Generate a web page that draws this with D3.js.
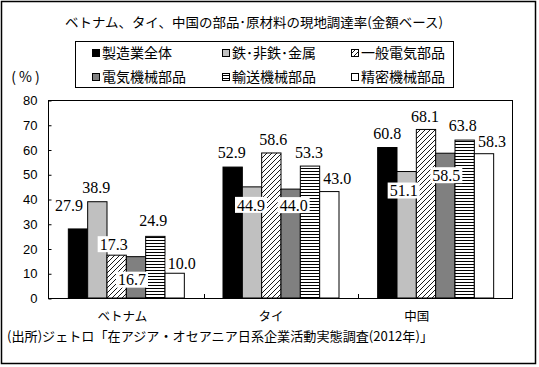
<!DOCTYPE html>
<html><head><meta charset="utf-8">
<script src="https://cdn.jsdelivr.net/npm/d3@7/dist/d3.min.js"></script>
<style>body{margin:0;background:#fff}svg{display:block}</style>
</head><body>
<svg id="c" width="539" height="367"></svg>
<script>
// ---- data ----
const categories = ["ベトナム", "タイ", "中国"];
const seriesNames = ["製造業全体", "鉄･非鉄･金属", "一般電気部品", "電気機械部品", "輸送機械部品", "精密機械部品"];
const manufacturing = [27.9, 52.9, 60.8];
const steel = [38.9, 44.9, 51.1];
const generalElectric = [17.3, 58.6, 68.1];
const electricMachinery = [16.7, 44.0, 58.5];
const transportMachinery = [24.9, 53.3, 63.8];
const precisionMachinery = [10.0, 43.0, 58.3];
const yTicks = [0, 10, 20, 30, 40, 50, 60, 70, 80];
const titleText = "ベトナム、タイ、中国の部品･原材料の現地調達率(金額ベース)";
const unitText = "(%)";
const sourceText = "(出所)ジェトロ「在アジア・オセアニア日系企業活動実態調査(2012年)」";

// ---- layout (not data) ----
const seriesValues = [manufacturing, steel, generalElectric, electricMachinery, transportMachinery, precisionMachinery];
const fills = ["#000", "#c0c0c0", "url(#hatch)", "#808080", "url(#hlines)", "#fff"];
// label offsets [dx, dy] from bar centre/top, per series, per category
const labelOffsets = [
  [[-9, -24], [-1, -15], [0, -14]],
  [[-1, -14], [-1, 18], [-3, 19]],
  [[-3, -11], [2, -14], [-1, -13]],
  [[-4, 23], [3, 16], [1, 22]],
  [[-2, -16], [-1, -14], [-2, -15]],
  [[7, -10], [8, -13], [8, -12]]
];
const catLabelShift = [-4, -10, -19];

const svg = d3.select("#c");
const defs = svg.append("defs");
const hatch = defs.append("pattern").attr("id", "hatch").attr("patternUnits", "userSpaceOnUse")
  .attr("width", 5).attr("height", 5);
hatch.append("rect").attr("width", 5).attr("height", 5).attr("fill", "#fff");
hatch.append("path").attr("d", "M-1,1 L1,-1 M0,5 L5,0 M4,6 L6,4").attr("stroke", "#000").attr("stroke-width", 0.9);
const hl = defs.append("pattern").attr("id", "hlines").attr("patternUnits", "userSpaceOnUse")
  .attr("width", 4).attr("height", 3);
hl.append("rect").attr("width", 4).attr("height", 3).attr("fill", "#fff");
hl.append("rect").attr("y", 0).attr("width", 4).attr("height", 1).attr("fill", "#000");

// outer border
svg.append("rect").attr("x", 1.5).attr("y", 1.5).attr("width", 534).attr("height", 362)
  .attr("fill", "#fff").attr("stroke", "#000").attr("stroke-width", 1.5);

const plotL = 48, plotR = 512, plotT = 100, plotB = 298;
const x = d3.scaleBand().domain(categories).range([plotL + 1, plotR + 1]).paddingInner(0.25).paddingOuter(0.125);
const xs = d3.scaleBand().domain(seriesNames).range([0, x.bandwidth()]);
const y = d3.scaleLinear().domain([0, 80]).range([plotB, plotT]);

// plot frame
svg.append("rect").attr("x", plotL + 0.5).attr("y", plotT + 0.5).attr("width", plotR - plotL).attr("height", plotB - plotT)
  .attr("fill", "none").attr("stroke", "#000").attr("stroke-width", 1);

// y axis
const ya = svg.append("g").attr("transform", `translate(${plotL + 0.5},0.5)`)
  .call(d3.axisLeft(y).tickValues(yTicks).tickSize(-3).tickPadding(11).tickFormat(d3.format("d")));
ya.select(".domain").remove();
ya.selectAll("text").attr("font-family", "Liberation Sans, Arial, sans-serif").attr("font-size", 13).attr("fill", "#000");
ya.selectAll("line").attr("stroke", "#000");

// x category boundary ticks
const gap = (x.step() - x.bandwidth()) / 2;
svg.selectAll(".xt").data(categories.slice(1)).join("line")
  .attr("x1", d => Math.round(x(d) - gap) + 0.5).attr("x2", d => Math.round(x(d) - gap) + 0.5)
  .attr("y1", plotB).attr("y2", plotB - 4).attr("stroke", "#000");

// bars
seriesNames.forEach((s, si) => {
  svg.append("g").selectAll("rect").data(seriesValues[si]).join("rect")
    .attr("x", (d, i) => x(categories[i]) + xs(s))
    .attr("y", d => y(d))
    .attr("width", xs.bandwidth())
    .attr("height", d => plotB - y(d))
    .attr("fill", fills[si]).attr("stroke", "#000").attr("stroke-width", 1);
});

// data labels
const lblG = svg.append("g");
seriesNames.forEach((s, si) => {
  seriesValues[si].forEach((v, ci) => {
    const cx = x(categories[ci]) + xs(s) + xs.bandwidth() / 2 + labelOffsets[si][ci][0];
    const cy = y(v) + labelOffsets[si][ci][1];
    const g = lblG.append("g");
    const t = g.append("text").attr("x", cx).attr("y", cy).attr("dy", "0.36em")
      .attr("text-anchor", "middle").attr("font-family", "Liberation Serif, Times New Roman, serif")
      .attr("font-size", 16).attr("fill", "#000").text(d3.format(".1f")(v));
    const bb = t.node().getBBox();
    g.insert("rect", "text").attr("x", bb.x - 2).attr("y", cy - 8).attr("width", bb.width + 4).attr("height", 16).attr("fill", "#fff");
  });
});

// category labels
svg.selectAll(".cat").data(categories).join("text")
  .attr("x", (d, i) => x(d) + x.bandwidth() / 2 + catLabelShift[i]).attr("y", 316.5).attr("dy", "0.36em")
  .attr("text-anchor", "middle").attr("font-family", "Noto Sans CJK JP").attr("font-size", 12.5).text(d => d);

// title
svg.append("text").attr("x", 254).attr("y", 22).attr("dy", "0.36em").attr("text-anchor", "middle")
  .attr("font-family", "Noto Sans CJK JP").attr("font-size", 13).attr("textLength", 378).attr("lengthAdjust", "spacingAndGlyphs").text(titleText);

// unit
svg.append("text").attr("x", 27).attr("y", 77).attr("dy", "0.36em").attr("text-anchor", "middle")
  .attr("font-family", "Noto Sans CJK JP").attr("font-size", 14).attr("letter-spacing", 3).text(unitText);

// legend
svg.append("rect").attr("x", 75.5).attr("y", 41.5).attr("width", 378).attr("height", 46)
  .attr("fill", "#fff").attr("stroke", "#000");
const legCols = [92, 222, 351], legRows = [53, 77];
seriesNames.forEach((s, si) => {
  const lx = legCols[si % 3], ly = legRows[Math.floor(si / 3)];
  svg.append("rect").attr("x", lx + 0.5).attr("y", ly - 3.5).attr("width", 7).attr("height", 7)
    .attr("fill", fills[si]).attr("stroke", "#000");
  svg.append("text").attr("x", lx + 10).attr("y", ly).attr("dy", "0.36em")
    .attr("font-family", "Noto Sans CJK JP").attr("font-size", 14).text(s);
});

// source
svg.append("text").attr("x", 7).attr("y", 336.5).attr("dy", "0.36em")
  .attr("font-family", "Noto Sans CJK JP").attr("font-size", 13).attr("textLength", 426).attr("lengthAdjust", "spacingAndGlyphs").text(sourceText);
</script>
</body></html>
